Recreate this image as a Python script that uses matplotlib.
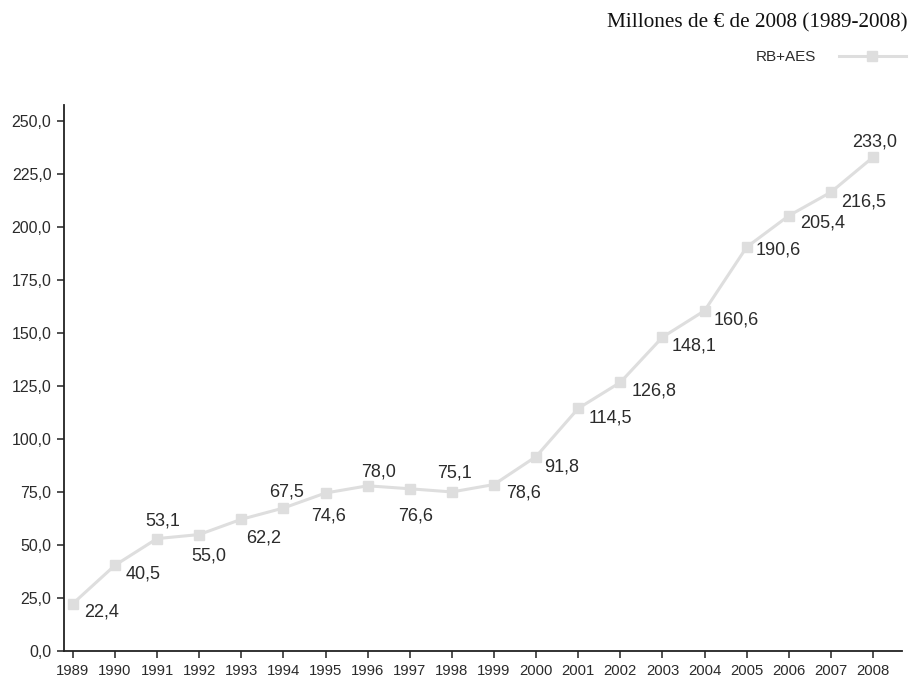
import matplotlib

matplotlib.use("Agg")

import matplotlib.pyplot as plt
from matplotlib.ticker import FuncFormatter

years = list(range(1989, 2009))
values = [22.4, 40.5, 53.1, 55.0, 62.2, 67.5, 74.6, 78.0, 76.6, 75.1,
          78.6, 91.8, 114.5, 126.8, 148.1, 160.6, 190.6, 205.4, 216.5, 233.0]
series_name = "RB+AES"
title = "Millones de € de 2008 (1989-2008)"

# label offsets in points (dx, dy) relative to each marker
label_offsets = [(21, -6), (20, -6), (4, 13), (7, -15.5), (16, -13.5),
                 (2, 11.5), (2.5, -16.5), (7.5, 10), (4.5, -19.5), (2, 13.5),
                 (21, -6), (18.5, -7.5), (23.5, -7), (24, -6.5), (23, -6),
                 (22.5, -6.5), (23, -2), (24, -5.5), (23.5, -7), (1, 11)]

line_color = "#dedede"
text_color = "#2b2b2b"
sans = ["Liberation Sans", "DejaVu Sans"]

fig = plt.figure(figsize=(9.14, 6.79), dpi=100)
fig.patch.set_facecolor("white")
ax = fig.add_axes([0.070, 0.041, 0.917, 0.804])

line, = ax.plot(years, values, color=line_color, linewidth=2.2,
                marker="s", markersize=7, markerfacecolor=line_color,
                markeredgecolor=line_color, label=series_name, zorder=3)

for x, y, (dx, dy) in zip(years, values, label_offsets):
    ax.annotate(f"{y:.1f}".replace(".", ","), xy=(x, y), xytext=(dx, dy),
                textcoords="offset points", ha="center", va="center",
                fontsize=13, color=text_color, family=sans)

ax.set_xlim(1988.79, 2008.69)
ax.set_ylim(0, 257.5)
ax.set_yticks([0, 25, 50, 75, 100, 125, 150, 175, 200, 225, 250])
ax.yaxis.set_major_formatter(FuncFormatter(lambda v, p: f"{v:.1f}".replace(".", ",")))
ax.set_xticks(years)
ax.set_xticklabels([str(y) for y in years])

for side in ("top", "right"):
    ax.spines[side].set_visible(False)
for side in ("left", "bottom"):
    ax.spines[side].set_color("#222222")
    ax.spines[side].set_linewidth(1.3)

ax.tick_params(axis="both", direction="out", length=5, width=1.1,
               color="#222222", labelcolor=text_color)
ax.tick_params(axis="y", pad=4, labelsize=11.5)
ax.tick_params(axis="x", pad=4, labelsize=10.7)
for lbl in ax.get_xticklabels() + ax.get_yticklabels():
    lbl.set_family(sans)

fig.text(0.993, 0.967, title, ha="right", va="center", fontsize=15.3,
         family=["Liberation Serif", "DejaVu Serif"], color="#111111")

leg = fig.legend(handles=[line], loc="center right",
                 bbox_to_anchor=(0.991, 0.916), frameon=False,
                 borderaxespad=0, borderpad=0,
                 markerfirst=False, handlelength=4.4, handletextpad=1.5,
                 prop={"family": sans, "size": 11})
for t in leg.get_texts():
    t.set_color(text_color)

fig.savefig("out.png", dpi=100, facecolor="white")
plt.close(fig)
